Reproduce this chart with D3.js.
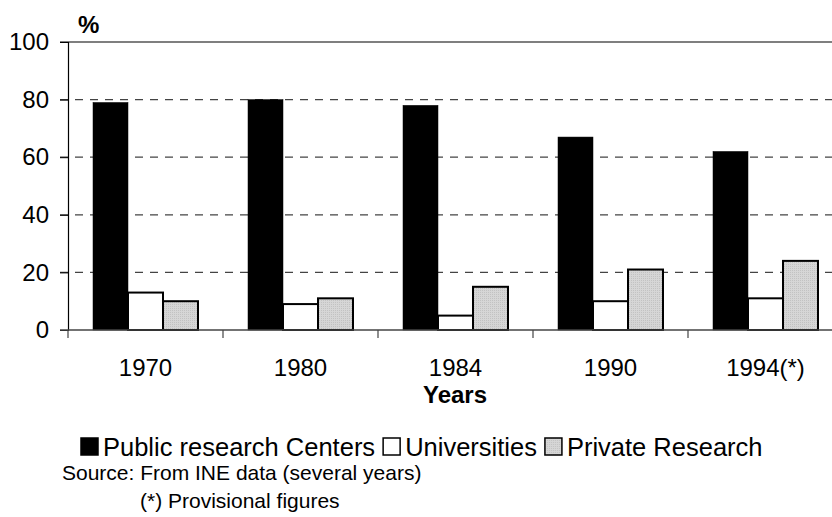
<!DOCTYPE html>
<html>
<head>
<meta charset="utf-8">
<script src="https://cdn.jsdelivr.net/npm/d3@7"></script>
<style>
  body { margin: 0; background: #fff; }
  text { font-family: "Liberation Sans", Arial, sans-serif; fill: #000; }
</style>
</head>
<body>
<div id="chart"></div>
<script>
// values
var years = ["1970", "1980", "1984", "1990", "1994(*)"];
var seriesNames = ["Public research Centers", "Universities", "Private Research"];
var publicCenters = [79, 80, 78, 67, 62];
var universities = [13, 9, 5, 10, 11];
var privateResearch = [10, 11, 15, 21, 24];
var yTicks = [0, 20, 40, 60, 80, 100];

var seriesColors = ["#000000", "#ffffff", "#cccccc"];

var width = 832, height = 517;
var margin = {top: 42, left: 68, bottom: 187, right: -11};   // plot runs past the right edge

var svg = d3.select("#chart").append("svg")
    .attr("width", width)
    .attr("height", height);

var data = years.map(function(y, i) {
    return {year: y, values: [publicCenters[i], universities[i], privateResearch[i]]};
});

var x = d3.scaleBand()
    .domain(years)
    .range([margin.left, width - margin.right]);

var inner = d3.scaleBand()
    .domain(d3.range(seriesNames.length))
    .range([25, x.bandwidth() - 25]);

var y = d3.scaleLinear()
    .domain([0, 100])
    .range([height - margin.bottom, margin.top]);

var defs = svg.append("defs");
var pat = defs.append("pattern")
    .attr("id", "dots")
    .attr("width", 2).attr("height", 2)
    .attr("patternUnits", "userSpaceOnUse");
pat.append("rect").attr("width", 2).attr("height", 2).attr("fill", "#d6d6d6");
pat.append("rect").attr("width", 1).attr("height", 1).attr("fill", "#c2c2c2");

// gridlines
svg.append("g")
    .selectAll("line")
    .data(yTicks.filter(function(d) { return d > 0; }))
    .enter().append("line")
    .attr("x1", margin.left - 8)
    .attr("x2", width)
    .attr("y1", function(d) { return y(d); })
    .attr("y2", function(d) { return y(d); })
    .attr("stroke", function(d) { return d === 100 ? "#000" : "#444"; })
    .attr("stroke-width", 1.2)
    .attr("stroke-dasharray", function(d) { return d === 100 ? null : "8,7"; });

// bars
var groups = svg.append("g")
    .selectAll("g")
    .data(data)
    .enter().append("g")
    .attr("transform", function(d) { return "translate(" + x(d.year) + ",0)"; });

groups.selectAll("rect")
    .data(function(d) { return d.values; })
    .enter().append("rect")
    .attr("x", function(d, i) { return inner(i); })
    .attr("y", function(d) { return y(d); })
    .attr("width", inner.bandwidth())
    .attr("height", function(d) { return y(0) - y(d); })
    .attr("fill", function(d, i) { return i === 2 ? "url(#dots)" : seriesColors[i]; })
    .attr("stroke", "#000")
    .attr("stroke-width", function(d, i) { return i === 0 ? 0.5 : 2; });

// y axis
var yAxis = svg.append("g")
    .attr("transform", "translate(" + margin.left + ",0)")
    .call(d3.axisLeft(y).tickValues(yTicks).tickSize(8).tickPadding(11));
yAxis.select(".domain").attr("stroke", "#000").attr("stroke-width", 1.2);
yAxis.selectAll(".tick line").attr("stroke", "#000");
yAxis.selectAll("text").style("font-size", "24px");

// x axis: ticks sit on the category boundaries
var xAxis = svg.append("g")
    .attr("transform", "translate(0," + y(0) + ")");
xAxis.append("line")
    .attr("x1", margin.left - 8).attr("x2", width)
    .attr("stroke", "#444").attr("stroke-width", 1.5);
xAxis.selectAll(".bound")
    .data(years)
    .enter().append("line")
    .attr("class", "bound")
    .attr("x1", function(d) { return x(d); })
    .attr("x2", function(d) { return x(d); })
    .attr("y1", 0).attr("y2", 8)
    .attr("stroke", "#444").attr("stroke-width", 1.2);
xAxis.selectAll(".lbl")
    .data(years)
    .enter().append("text")
    .attr("class", "lbl")
    .attr("x", function(d) { return x(d) + x.bandwidth() / 2; })
    .attr("y", 46)
    .attr("text-anchor", "middle")
    .style("font-size", "24px")
    .text(function(d) { return d; });

// titles
svg.append("text")
    .attr("x", 78).attr("y", 33)
    .style("font-size", "24px").style("font-weight", "bold")
    .text("%");
svg.append("text")
    .attr("x", 455).attr("y", 403)
    .attr("text-anchor", "middle")
    .style("font-size", "24px").style("font-weight", "bold")
    .text("Years");

// legend, items laid out one after another
var legend = svg.append("g").attr("transform", "translate(81,438)");
var lx = 0;
seriesNames.forEach(function(name, i) {
    var item = legend.append("g").attr("transform", "translate(" + lx + ",0)");
    item.append("rect")
        .attr("width", 17).attr("height", 17)
        .attr("fill", i === 2 ? "url(#dots)" : seriesColors[i])
        .attr("stroke", "#000")
        .attr("stroke-width", 1.5);
    var t = item.append("text")
        .attr("x", 22).attr("y", 18)
        .style("font-size", "25.5px")
        .text(name);
    lx += 22 + t.node().getComputedTextLength() + 8;
});

svg.append("text")
    .attr("x", 62).attr("y", 480)
    .style("font-size", "21px")
    .text("Source: From INE data (several years)");
svg.append("text")
    .attr("x", 140).attr("y", 508)
    .style("font-size", "21px")
    .text("(*) Provisional figures");
</script>
</body>
</html>
